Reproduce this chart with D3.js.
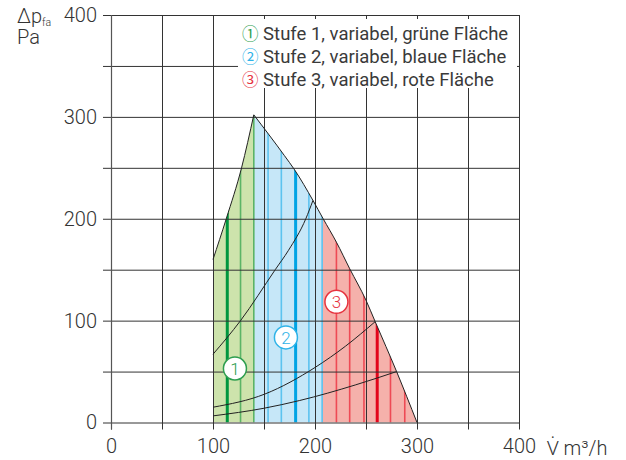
<!DOCTYPE html>
<html>
<head>
<meta charset="utf-8">
<script src="https://cdn.jsdelivr.net/npm/d3@7"></script>
<style>
  html, body { margin: 0; padding: 0; background: #fff; }
  svg { display: block; }
  text { font-family: Roboto, "Noto Sans", "DejaVu Sans", "Noto Sans CJK SC", sans-serif; font-weight: 300; fill: #333; }
</style>
</head>
<body>
<svg id="chart" width="626" height="460"></svg>
<script>
// ---------- data ----------
const xTicks = [0, 50, 100, 150, 200, 250, 300, 350, 400];
const yTicks = [0, 50, 100, 150, 200, 250, 300, 350, 400];
const xLabels = [0, 100, 200, 300, 400];
const yLabels = [0, 100, 200, 300, 400];

// upper-left boundary (Stufe 1 max) : V, dp
const leftEdge = [[100, 160], [113, 200], [128, 250], [140, 302]];
// right boundary (max curve)
const rightEdge = [[140, 302], [170, 262], [180, 248], [198, 218], [208, 200], [221, 177], [234, 151], [250, 120], [259, 99], [280, 50], [300, 0]];

// system curves
const sysCurve1 = [[100, 67], [127, 100], [161, 150], [174, 169], [191, 200], [198, 218]];
const sysCurve2 = [[100, 15], [151, 28], [200, 54], [230, 75], [259, 99]];
const sysCurve3 = [[100, 6.5], [150, 14], [185, 21.6], [240, 37], [280, 50]];

// zones
const zoneNames = ["Stufe 1", "Stufe 2", "Stufe 3"];
const zoneFrom = [100, 140, 207];
const zoneTo = [140, 207, 300];

// vertical control lines (V), zone index, thick flag
const lineV    = [100, 114, 127, 140, 154, 167, 181, 194, 207, 221, 234, 248, 261, 274, 288];
const lineZone = [0, 0, 0, 0, 1, 1, 1, 1, 1, 2, 2, 2, 2, 2, 2];
const lineBold = [0, 1, 0, 0, 0, 0, 1, 0, 0, 0, 0, 0, 1, 0, 0];

// circle markers
const markerLabel = ["1", "2", "3"];
const markerV  = [121.5, 171.5, 221];
const markerDp = [53, 83.5, 118.5];

// legend
const legendSymbols = ["\u2460", "\u2461", "\u2462"];
const legendTexts = ["Stufe 1, variabel, grüne Fläche", "Stufe 2, variabel, blaue Fläche", "Stufe 3, variabel, rote Fläche"];

// ---------- styles ----------
const fillCol  = ["#cde3ac", "#c6e7f8", "#f5b1ab"];
const thinCol  = ["#5bb466", "#5cc3ef", "#ee4a55"];
const thickCol = ["#00963f", "#00a4e4", "#e3051b"];
const markCol  = ["#2e9e4f", "#2fb3e8", "#e6333f"];

// ---------- drawing ----------
const svg = d3.select("#chart");
const x = d3.scaleLinear().domain([0, 400]).range([111, 519]);
const y = d3.scaleLinear().domain([0, 400]).range([422.5, 15]);

const line = d3.line().x(d => x(d[0])).y(d => y(d[1])).curve(d3.curveMonotoneX);
const leftD = line(leftEdge);
const rightD = line(rightEdge);
const envelope = `M${x(100)},${y(0)}L${leftD.slice(1)}L${rightD.slice(1)}L${x(300)},${y(0)}Z`;

svg.append("defs").append("clipPath").attr("id", "env")
  .append("path").attr("d", envelope);

const zones = svg.append("g").attr("clip-path", "url(#env)");
zones.selectAll("rect").data(zoneNames).join("rect")
  .attr("x", (d, i) => x(zoneFrom[i]))
  .attr("width", (d, i) => x(zoneTo[i]) - x(zoneFrom[i]))
  .attr("y", y(330)).attr("height", y(0) - y(330))
  .attr("fill", (d, i) => fillCol[i]);

zones.selectAll("line").data(lineV).join("line")
  .attr("x1", d => x(d)).attr("x2", d => x(d))
  .attr("y1", y(0)).attr("y2", y(330))
  .attr("stroke", (d, i) => lineBold[i] ? thickCol[lineZone[i]] : thinCol[lineZone[i]])
  .attr("stroke-width", (d, i) => lineBold[i] ? 3 : 1.6);

// grid via axes
const gx = svg.append("g").attr("transform", `translate(0,${y(0) + 7})`)
  .call(d3.axisBottom(x).tickValues(xTicks)
    .tickSizeInner(-(y(0) + 7 - y(400))).tickSizeOuter(0).tickPadding(9)
    .tickFormat(d => xLabels.includes(d) ? d : ""));
gx.select(".domain").remove();
gx.selectAll(".tick line").attr("stroke", "#333").attr("stroke-width", 1);
gx.selectAll(".tick text").attr("font-size", 20).attr("fill", "#333");

const gy = svg.append("g").attr("transform", `translate(${x(0) - 8},0)`)
  .call(d3.axisLeft(y).tickValues(yTicks)
    .tickSizeInner(-(x(400) - x(0) + 8)).tickSizeOuter(0).tickPadding(6)
    .tickFormat(d => yLabels.includes(d) ? d : ""));
gy.select(".domain").remove();
gy.selectAll(".tick line").attr("stroke", "#333").attr("stroke-width", 1);
gy.selectAll(".tick text").attr("font-size", 20).attr("fill", "#333");
svg.selectAll(".tick text").attr("font-family", null).style("font-weight", 300);

// left axis line slightly grey
svg.append("line").attr("x1", x(0) + 0.5).attr("x2", x(0) + 0.5)
  .attr("y1", y(400)).attr("y2", y(0) + 7).attr("stroke", "#555").attr("stroke-width", 1.2);

// boundary outline
svg.append("path").attr("d", leftD).attr("fill", "none").attr("stroke", "#222").attr("stroke-width", 1);
svg.append("path").attr("d", rightD).attr("fill", "none").attr("stroke", "#222").attr("stroke-width", 1);

// system curves
const sysLine = d3.line().x(d => x(d[0])).y(d => y(d[1])).curve(d3.curveMonotoneX);
[sysCurve1, sysCurve2, sysCurve3].forEach(c => {
  svg.append("path").attr("d", sysLine(c)).attr("fill", "none").attr("stroke", "#222").attr("stroke-width", 1);
});

// markers
const mk = svg.selectAll(".marker").data(markerLabel).join("g").attr("class", "marker")
  .attr("transform", (d, i) => `translate(${x(markerV[i])},${y(markerDp[i])})`);
mk.append("circle").attr("r", 11.5).attr("fill", "#fff")
  .attr("stroke", (d, i) => markCol[i]).attr("stroke-width", 1.5);
mk.append("text").attr("text-anchor", "middle").attr("dy", "0.36em")
  .attr("font-size", 17).style("fill", (d, i) => markCol[i]).text(d => d);

// legend box
svg.append("rect").attr("x", 238).attr("y", 19).attr("width", 279).attr("height", 69).attr("fill", "#fff");
const lg = svg.append("g");
legendTexts.forEach((t, i) => {
  const tx = lg.append("text").attr("x", 242).attr("y", 39.5 + i * 23.2)
    .attr("font-size", 18.5).style("font-weight", 400).style("fill", "#3a3a3a");
  tx.append("tspan").style("fill", markCol[i]).style("font-family", "'Noto Sans CJK SC', 'DejaVu Sans'").attr("font-size", 16.5).text(legendSymbols[i]);
  tx.append("tspan").text(" " + t);
});

// axis titles (y title as one two-line text)
const yt = svg.append("text").attr("x", 17).attr("y", 23).attr("font-size", 20);
yt.append("tspan").text("Δp");
yt.append("tspan").attr("font-size", 10.5).attr("dy", 3).text("fa");
yt.append("tspan").attr("x", 17).attr("dy", 18).text("Pa");
svg.append("text").attr("x", 547).attr("y", 455).attr("font-size", 20).text("V\u0307 m³/h");
</script>
</body>
</html>
